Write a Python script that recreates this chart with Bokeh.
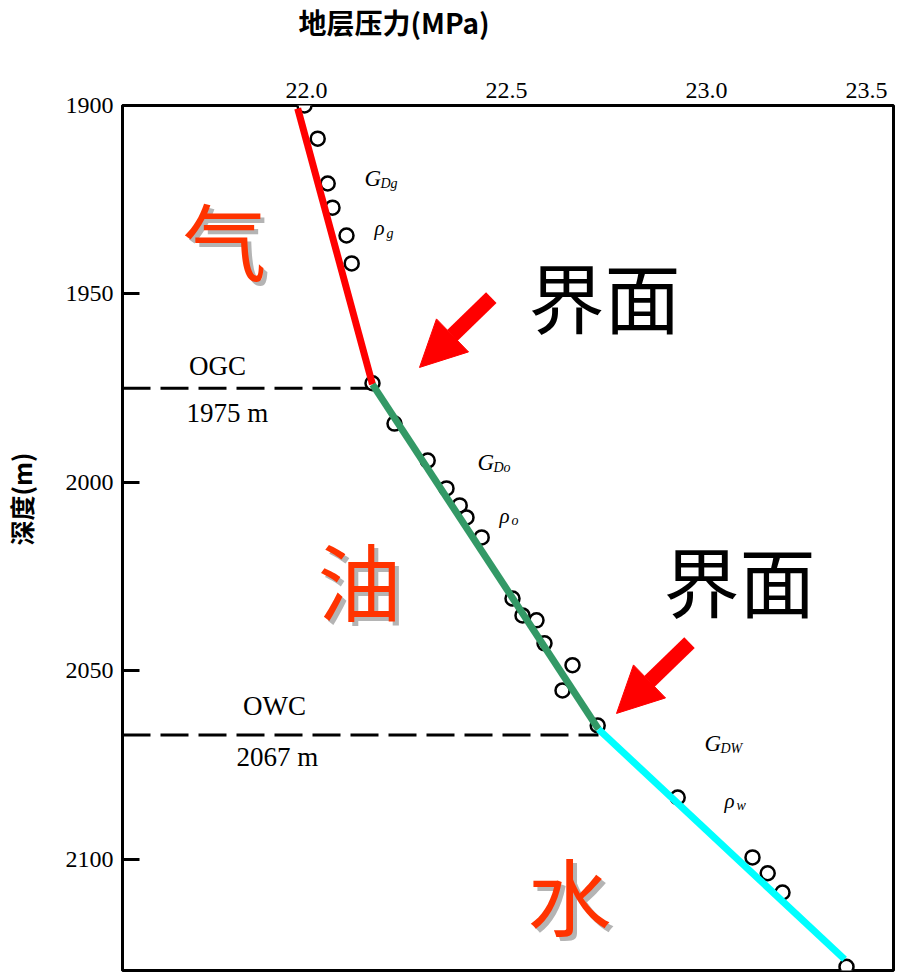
from bokeh.plotting import figure
from bokeh.models import Range1d, FixedTicker, Arrow, NormalHead, LinearAxis, Title
from bokeh.core.properties import value
from bokeh.embed import file_html
from bokeh.resources import INLINE

# ---------------- data ----------------
gas_pressure = [21.995, 22.028, 22.053, 22.065, 22.100, 22.113]
gas_depth = [1900.0, 1908.8, 1920.7, 1927.1, 1934.5, 1941.9]

oil_pressure = [22.165, 22.220, 22.303, 22.350, 22.383, 22.400, 22.438,
                22.515, 22.540, 22.575, 22.595, 22.665, 22.640, 22.728]
oil_depth = [1973.7, 1984.4, 1994.2, 2001.6, 2006.1, 2009.3, 2014.6,
             2030.8, 2035.3, 2036.6, 2042.7, 2048.5, 2055.2, 2064.5]

water_pressure = [22.928, 23.115, 23.153, 23.190, 23.350]
water_depth = [2083.6, 2099.5, 2103.7, 2108.8, 2128.5]

# fitted gradient lines (gas / oil / water)
gas_line_p = [21.978, 22.165]
gas_line_d = [1900.8, 1974.0]
oil_line_p = [22.165, 22.730]
oil_line_d = [1974.0, 2065.5]
water_line_p = [22.730, 23.345]
water_line_d = [2065.5, 2126.5]

ogc_depth = 1975
owc_depth = 2067

x_ticks = [22.0, 22.5, 23.0, 23.4]
x_tick_labels = ["22.0", "22.5", "23.0", "23.5"]
y_ticks = [1900, 1950, 2000, 2050, 2100]

X0, X1 = 21.54, 23.4675
Y0, Y1 = 1900, 2129.5

p = figure(x_range=Range1d(X0, X1), y_range=Range1d(Y1, Y0),
           x_axis_location="above",
           frame_width=771, frame_height=865,
           min_border_left=122, min_border_top=105,
           min_border_right=4, min_border_bottom=3,
           output_backend="svg", toolbar_location=None,
           background_fill_color="white", border_fill_color="white")
p.grid.visible = False
p.outline_line_color = "black"
p.outline_line_width = 3
p.outline_line_alpha = 1.0

SERIF = "Liberation Serif"
CJK = "Noto Sans CJK SC"

xa = p.xaxis[0]
xa.ticker = FixedTicker(ticks=x_ticks)
xa.major_label_overrides = {t: l for t, l in zip(x_ticks, x_tick_labels)}
xa.axis_line_color = None
xa.major_tick_in = 0
xa.major_tick_out = 0
xa.minor_tick_line_color = None
xa.major_label_standoff = 8
xa.major_label_text_font = SERIF
xa.major_label_text_font_size = "24px"
xa.major_label_text_color = "black"

ya = p.yaxis[0]
ya.ticker = FixedTicker(ticks=y_ticks)
ya.axis_line_width = 3
ya.axis_line_color = "black"
ya.major_tick_in = 17
ya.major_tick_out = 0
ya.major_tick_line_width = 3
ya.major_tick_line_color = "black"
ya.minor_tick_line_color = None
ya.major_label_standoff = 9
ya.major_label_text_font = SERIF
ya.major_label_text_font_size = "24px"
ya.major_label_text_color = "black"


def spacer(n, tick):
    # invisible axis: only its (hidden) outer tick length takes room
    return LinearAxis(ticker=FixedTicker(ticks=[tick]), major_tick_out=n,
                      major_tick_in=0, minor_tick_out=0, minor_tick_in=0,
                      major_tick_line_color=None, minor_tick_line_color=None,
                      axis_line_color=None, major_label_standoff=0,
                      major_label_overrides={tick: ""},
                      major_label_text_font_size="0px")

p.add_layout(spacer(36, x_ticks[0]), "above")
p.add_layout(spacer(22, y_ticks[2]), "left")

# axis names (placed off-centre like the original)
p.title.text = "地层压力(MPa)"
p.title.align = "left"
p.title.offset = 176
p.title.vertical_align = "top"
p.title.standoff = 0
p.title.text_font = CJK
p.title.text_font_size = "28px"
p.title.text_font_style = "bold"
p.title.text_color = "black"

p.add_layout(Title(text="深度(m)", align="left", offset=425, vertical_align="top",
                   standoff=0, text_font=CJK, text_font_size="25px",
                   text_font_style="bold", text_color="black"), "left")

# interface dashed lines
p.line([X0, gas_line_p[1]], [ogc_depth, ogc_depth], line_color="black",
       line_width=3, line_dash="28 10")
p.line([X0, oil_line_p[1]], [owc_depth, owc_depth], line_color="black",
       line_width=3, line_dash="28 10")

# measured points
for xs, ys in [(gas_pressure, gas_depth), (oil_pressure, oil_depth),
               (water_pressure, water_depth)]:
    p.scatter(xs, ys, marker="circle", size=14, fill_color="white",
              line_color="black", line_width=2.5)

# fitted lines
p.line(gas_line_p, gas_line_d, line_color="#ff0000", line_width=7)
p.line(oil_line_p, oil_line_d, line_color="#339966", line_width=7)
p.line(water_line_p, water_line_d, line_color="#00ffff", line_width=7)

# contact labels
def lbl(x, y, t):
    p.text([x], [y], text=[t], text_font=value(SERIF),
           text_font_size="27px", text_align="center", text_baseline="middle",
           text_color="black")

lbl(21.7775, 1969.0, "OGC")
lbl(21.8025, 1981.7, f"{ogc_depth} m")
lbl(21.92, 2059.4, "OWC")
lbl(21.9275, 2072.9, f"{owc_depth} m")

# gradient / density labels
def sym(x, y, main, sub, size_main="23px", dx=16):
    p.text([x], [y], text=[main], text_font=value(SERIF), text_font_style="italic",
           text_font_size=size_main, text_align="left", text_baseline="middle",
           text_color="black")
    p.text([x], [y], text=[sub], text_font=value(SERIF), text_font_style="italic",
           text_font_size="14px", text_align="left", text_baseline="middle",
           text_color="black", x_offset=dx, y_offset=5)

sym(22.145, 1919.4, "G", "Dg")
sym(22.170, 1932.6, "ρ", "g", "21px", 12)
sym(22.4275, 1994.7, "G", "Do")
sym(22.4825, 2008.8, "ρ", "o", "21px", 12)
sym(22.995, 2069.2, "G", "DW")
sym(23.045, 2084.4, "ρ", "w", "21px", 12)

# zone labels with shadow
zones = [(21.795, 1935.3, "气"), (22.1325, 2025.5, "油"), (22.6575, 2109.0, "水")]
for zx, zy, zt in zones:
    p.text([zx], [zy], text=[zt], text_font=value(CJK), text_font_size="84px",
           text_align="center", text_baseline="middle", text_color="#b4b4b4",
           x_offset=4, y_offset=4)
    p.text([zx], [zy], text=[zt], text_font=value(CJK), text_font_size="84px",
           text_align="center", text_baseline="middle", text_color="#ff3300")

# interface labels and arrows
for tx, ty in [(22.745, 1950.4), (23.0825, 2025.5)]:
    p.text([tx], [ty], text=["界面"], text_font=value(CJK), text_font_size="76px",
           text_align="center", text_baseline="middle", text_color="black")

for (xs, ys, xe, ye) in [(22.462, 1951.0, 22.2825, 1969.5),
                         (22.9575, 2042.5, 22.775, 2061.3)]:
    p.add_layout(Arrow(end=NormalHead(size=46, fill_color="#ff0000",
                                      line_color="#ff0000"),
                       x_start=xs, y_start=ys, x_end=xe, y_end=ye,
                       line_color="#ff0000", line_width=15))

open("out.html", "w").write(file_html(p, INLINE))
